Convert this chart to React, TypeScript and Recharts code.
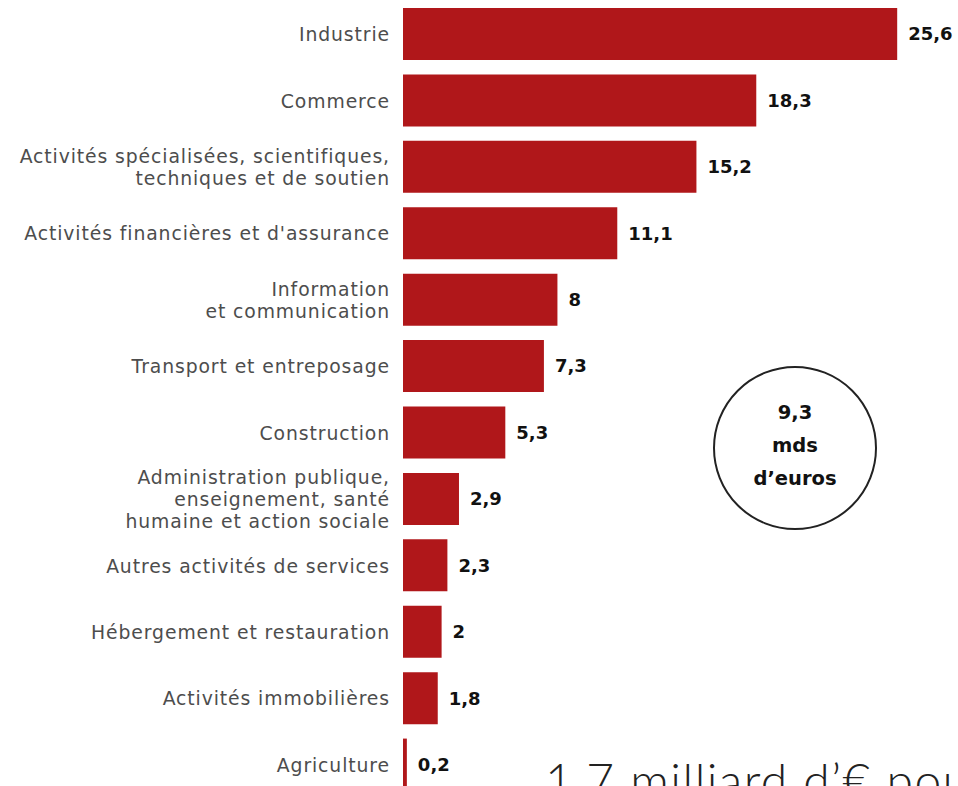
import { BarChart, Bar, XAxis, YAxis, LabelList } from "recharts";

// Sector labels ("\n" = forced line break, as in the original)
const categories = [
  "Industrie",
  "Commerce",
  "Activités spécialisées, scientifiques,\ntechniques et de soutien",
  "Activités financières et d'assurance",
  "Information\net communication",
  "Transport et entreposage",
  "Construction",
  "Administration publique,\nenseignement, santé\nhumaine et action sociale",
  "Autres activités de services",
  "Hébergement et restauration",
  "Activités immobilières",
  "Agriculture",
];

// Amounts, in billions of euros
const amounts = [25.6, 18.3, 15.2, 11.1, 8, 7.3, 5.3, 2.9, 2.3, 2, 1.8, 0.2];

const BAR_COLOR = "#b0171a";
const FONT = "'DejaVu Sans', sans-serif";

const data = categories.map((sector, i) => ({ sector, value: amounts[i] }));

type TickProps = { x?: number; y?: number; payload?: { value: string } };

// Right-aligned multi-line category label
const SectorTick = ({ x = 0, y = 0, payload }: TickProps) => {
  const lines = (payload?.value ?? "").split("\n");
  const lh = 22;
  const start = y - ((lines.length - 1) * lh) / 2;
  return (
    <text
      x={x}
      y={start}
      textAnchor="end"
      dominantBaseline="central"
      fill="#4d4d4d"
      fontSize={18.8}
      letterSpacing={0.9}
      fontFamily={FONT}
    >
      {lines.map((line, i) => (
        <tspan key={i} x={x} dy={i === 0 ? 0 : lh}>
          {line}
        </tspan>
      ))}
    </text>
  );
};

const formatValue = (v: unknown) => String(v).replace(".", ",");

export default function App() {
  return (
    <div
      style={{
        position: "fixed",
        top: 0,
        left: 0,
        width: 958,
        height: 786,
        overflow: "hidden",
        background: "#fff",
      }}
    >
      <BarChart
        width={958}
        height={798}
        data={data}
        layout="vertical"
        margin={{ top: 1, right: 0, left: 0, bottom: 0 }}
      >
        <XAxis type="number" domain={[0, 28.75]} hide />
        <YAxis
          type="category"
          dataKey="sector"
          width={403}
          axisLine={false}
          tickLine={false}
          tickSize={0}
          tickMargin={13}
          interval={0}
          tick={<SectorTick />}
        />
        <Bar dataKey="value" fill={BAR_COLOR} barSize={52} isAnimationActive={false}>
          <LabelList
            dataKey="value"
            position="right"
            offset={11}
            formatter={formatValue}
            fill="#111"
            fontSize={18}
            fontWeight={700}
            fontFamily={FONT}
          />
        </Bar>
      </BarChart>

      {/* total annotation + cut-off caption */}
      <svg
        width={958}
        height={786}
        style={{ position: "absolute", top: 0, left: 0, pointerEvents: "none" }}
      >
        <circle cx={795} cy={448} r={81} fill="#fff" stroke="#222" strokeWidth={2} />
        <text
          x={795}
          textAnchor="middle"
          fontFamily={FONT}
          fontWeight={700}
          fontSize={19.5}
          fill="#111"
        >
          <tspan x={795} y={419}>9,3</tspan>
          <tspan x={795} y={452}>mds</tspan>
          <tspan x={795} y={485}>d’euros</tspan>
        </text>
        <text
          x={545}
          y={798}
          fontFamily="Lato, 'Open Sans', sans-serif"
          fontWeight={300}
          fontSize={48}
          letterSpacing={1.5}
          fill="#222"
        >
          1,7 milliard d’€ pour
        </text>
      </svg>
    </div>
  );
}
